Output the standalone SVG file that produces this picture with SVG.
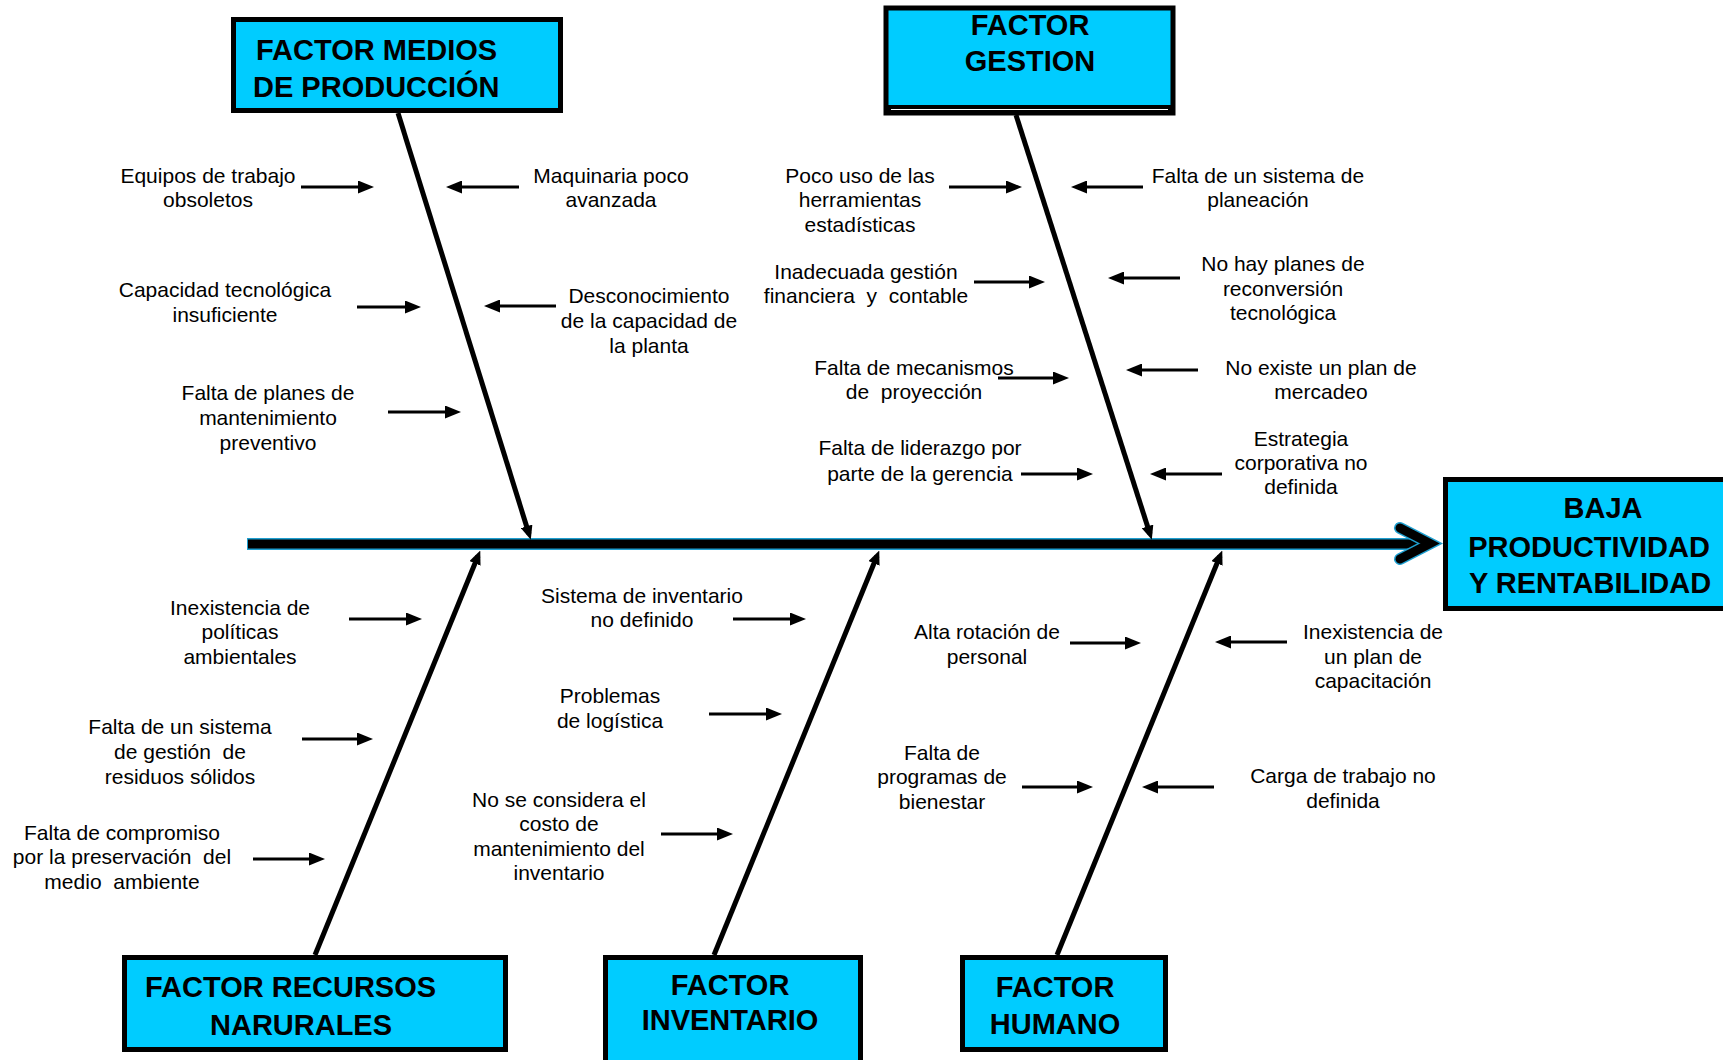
<svg xmlns="http://www.w3.org/2000/svg" width="1723" height="1060" viewBox="0 0 1723 1060">
<style>
.box{fill:#00CCFF;stroke:#000;stroke-width:5}
.title{font-family:"Liberation Sans",Arial,sans-serif;font-weight:bold;font-size:29px;fill:#000}
.cause{font-family:"Liberation Sans",Arial,sans-serif;font-size:21px;fill:#000;text-anchor:middle;white-space:pre}
.arr{stroke:#000;stroke-width:3;fill:none;marker-end:url(#ah)}
.bone{stroke:#000;stroke-width:5;fill:none;marker-end:url(#bh)}
</style>
<defs>
<marker id="ah" markerUnits="userSpaceOnUse" viewBox="0 0 16 13" markerWidth="16" markerHeight="13" refX="11" refY="6.5" orient="auto"><path d="M0,0 L16,6.5 L0,13 z" fill="#000"/></marker>
<marker id="bh" markerUnits="userSpaceOnUse" viewBox="0 0 14 12" markerWidth="14" markerHeight="12" refX="8" refY="6" orient="auto"><path d="M0,0 L14,6 L0,12 z" fill="#000"/></marker>
</defs>
<rect width="1723" height="1060" fill="#fff"/>

<g id="connectors">
  <g id="spine">
    <line x1="247" y1="544" x2="1425" y2="544" stroke="#1E9FD0" stroke-width="12"/>
    <line x1="248" y1="544" x2="1425" y2="544" stroke="#000" stroke-width="9"/>
    <path d="M1400,528 L1430,543.5 L1400,559" fill="none" stroke="#1E9FD0" stroke-width="12" stroke-linecap="round"/>
    <path d="M1400,528 L1430,543.5 L1400,559" fill="none" stroke="#000" stroke-width="9" stroke-linecap="round"/>
  </g>
  <line class="bone" x1="398" y1="113" x2="529" y2="534"/>
  <line class="bone" x1="1016" y1="115" x2="1150" y2="534"/>
  <line class="bone" x1="315" y1="955" x2="478" y2="556"/>
  <line class="bone" x1="714" y1="955" x2="877" y2="556"/>
  <line class="bone" x1="1057" y1="955" x2="1220" y2="556"/>

  <line class="arr" x1="301" y1="187" x2="369" y2="187"/>
  <line class="arr" x1="519" y1="187" x2="451" y2="187"/>
  <line class="arr" x1="357" y1="307" x2="416" y2="307"/>
  <line class="arr" x1="556" y1="306" x2="489" y2="306"/>
  <line class="arr" x1="388" y1="412" x2="456" y2="412"/>
  <line class="arr" x1="949" y1="187" x2="1017" y2="187"/>
  <line class="arr" x1="1143" y1="187" x2="1076" y2="187"/>
  <line class="arr" x1="974" y1="282" x2="1040" y2="282"/>
  <line class="arr" x1="1180" y1="278" x2="1113" y2="278"/>
  <line class="arr" x1="998" y1="378" x2="1064" y2="378"/>
  <line class="arr" x1="1198" y1="370" x2="1131" y2="370"/>
  <line class="arr" x1="1021" y1="474" x2="1088" y2="474"/>
  <line class="arr" x1="1222" y1="474" x2="1155" y2="474"/>
  <line class="arr" x1="349" y1="619" x2="417" y2="619"/>
  <line class="arr" x1="302" y1="739" x2="368" y2="739"/>
  <line class="arr" x1="253" y1="859" x2="320" y2="859"/>
  <line class="arr" x1="733" y1="619" x2="801" y2="619"/>
  <line class="arr" x1="709" y1="714" x2="777" y2="714"/>
  <line class="arr" x1="661" y1="834" x2="728" y2="834"/>
  <line class="arr" x1="1070" y1="643" x2="1136" y2="643"/>
  <line class="arr" x1="1287" y1="642" x2="1220" y2="642"/>
  <line class="arr" x1="1022" y1="787" x2="1088" y2="787"/>
  <line class="arr" x1="1214" y1="787" x2="1147" y2="787"/>
</g>

<g id="factor-medios">
  <rect class="box" x="233.5" y="19.5" width="327" height="91"/>
  <text class="title" x="256" y="60">FACTOR MEDIOS</text>
  <text class="title" x="253" y="97">DE PRODUCCIÓN</text>
</g>
<g id="factor-gestion">
  <rect class="box" x="886" y="8" width="287" height="105" stroke-width="4"/>
  <rect x="888" y="105" width="283" height="6" fill="#000"/>
  <line x1="891" y1="109.5" x2="1168" y2="109.5" stroke="#fff" stroke-width="1"/>
  <text class="title" x="1030" y="35" text-anchor="middle">FACTOR</text>
  <text class="title" x="1030" y="71" text-anchor="middle">GESTION</text>
</g>
<g id="efecto">
  <rect class="box" x="1445.5" y="479.5" width="300" height="129"/>
  <text class="title" x="1603" y="518" text-anchor="middle">BAJA</text>
  <text class="title" x="1589" y="557" text-anchor="middle">PRODUCTIVIDAD</text>
  <text class="title" x="1590" y="593" text-anchor="middle">Y RENTABILIDAD</text>
</g>
<g id="factor-recursos">
  <rect class="box" x="124.5" y="957.5" width="381" height="92"/>
  <text class="title" x="145" y="997">FACTOR RECURSOS</text>
  <text class="title" x="210" y="1035">NARURALES</text>
</g>
<g id="factor-inventario">
  <rect class="box" x="605.5" y="957.5" width="255" height="120"/>
  <text class="title" x="730" y="995" text-anchor="middle">FACTOR</text>
  <text class="title" x="730" y="1030" text-anchor="middle">INVENTARIO</text>
</g>
<g id="factor-humano">
  <rect class="box" x="962.5" y="957.5" width="203" height="92"/>
  <text class="title" x="1055" y="997" text-anchor="middle">FACTOR</text>
  <text class="title" x="1055" y="1034" text-anchor="middle">HUMANO</text>
</g>

<g id="causas">
  <g id="c-equipos"><text class="cause" x="208" y="183">Equipos de trabajo</text><text class="cause" x="208" y="207">obsoletos</text></g>
  <g id="c-maquinaria"><text class="cause" x="611" y="183">Maquinaria poco</text><text class="cause" x="611" y="207">avanzada</text></g>
  <g id="c-capacidad"><text class="cause" x="225" y="297">Capacidad tecnológica</text><text class="cause" x="225" y="322">insuficiente</text></g>
  <g id="c-desconocimiento"><text class="cause" x="649" y="303">Desconocimiento</text><text class="cause" x="649" y="328">de la capacidad de</text><text class="cause" x="649" y="353">la planta</text></g>
  <g id="c-mantenimiento"><text class="cause" x="268" y="400">Falta de planes de</text><text class="cause" x="268" y="425">mantenimiento</text><text class="cause" x="268" y="450">preventivo</text></g>
  <g id="c-poco-uso"><text class="cause" x="860" y="183">Poco uso de las</text><text class="cause" x="860" y="207">herramientas</text><text class="cause" x="860" y="232">estadísticas</text></g>
  <g id="c-planeacion"><text class="cause" x="1258" y="183">Falta de un sistema de</text><text class="cause" x="1258" y="207">planeación</text></g>
  <g id="c-financiera"><text class="cause" x="866" y="279">Inadecuada gestión</text><text class="cause" x="866" y="303" xml:space="preserve">financiera  y  contable</text></g>
  <g id="c-reconversion"><text class="cause" x="1283" y="271">No hay planes de</text><text class="cause" x="1283" y="296">reconversión</text><text class="cause" x="1283" y="320">tecnológica</text></g>
  <g id="c-proyeccion"><text class="cause" x="914" y="375">Falta de mecanismos</text><text class="cause" x="914" y="399" xml:space="preserve">de  proyección</text></g>
  <g id="c-mercadeo"><text class="cause" x="1321" y="375">No existe un plan de</text><text class="cause" x="1321" y="399">mercadeo</text></g>
  <g id="c-liderazgo"><text class="cause" x="920" y="455">Falta de liderazgo por</text><text class="cause" x="920" y="481">parte de la gerencia</text></g>
  <g id="c-estrategia"><text class="cause" x="1301" y="446">Estrategia</text><text class="cause" x="1301" y="470">corporativa no</text><text class="cause" x="1301" y="494">definida</text></g>
  <g id="c-politicas"><text class="cause" x="240" y="615">Inexistencia de</text><text class="cause" x="240" y="639">políticas</text><text class="cause" x="240" y="664">ambientales</text></g>
  <g id="c-residuos"><text class="cause" x="180" y="734">Falta de un sistema</text><text class="cause" x="180" y="759" xml:space="preserve">de gestión  de</text><text class="cause" x="180" y="784">residuos sólidos</text></g>
  <g id="c-compromiso"><text class="cause" x="122" y="840">Falta de compromiso</text><text class="cause" x="122" y="864" xml:space="preserve">por la preservación  del</text><text class="cause" x="122" y="889" xml:space="preserve">medio  ambiente</text></g>
  <g id="c-inventario"><text class="cause" x="642" y="603">Sistema de inventario</text><text class="cause" x="642" y="627">no definido</text></g>
  <g id="c-logistica"><text class="cause" x="610" y="703">Problemas</text><text class="cause" x="610" y="728">de logística</text></g>
  <g id="c-costo"><text class="cause" x="559" y="807">No se considera el</text><text class="cause" x="559" y="831">costo de</text><text class="cause" x="559" y="856">mantenimiento del</text><text class="cause" x="559" y="880">inventario</text></g>
  <g id="c-rotacion"><text class="cause" x="987" y="639">Alta rotación de</text><text class="cause" x="987" y="664">personal</text></g>
  <g id="c-capacitacion"><text class="cause" x="1373" y="639">Inexistencia de</text><text class="cause" x="1373" y="664">un plan de</text><text class="cause" x="1373" y="688">capacitación</text></g>
  <g id="c-bienestar"><text class="cause" x="942" y="760">Falta de</text><text class="cause" x="942" y="784">programas de</text><text class="cause" x="942" y="809">bienestar</text></g>
  <g id="c-carga"><text class="cause" x="1343" y="783">Carga de trabajo no</text><text class="cause" x="1343" y="808">definida</text></g>
</g>
</svg>
